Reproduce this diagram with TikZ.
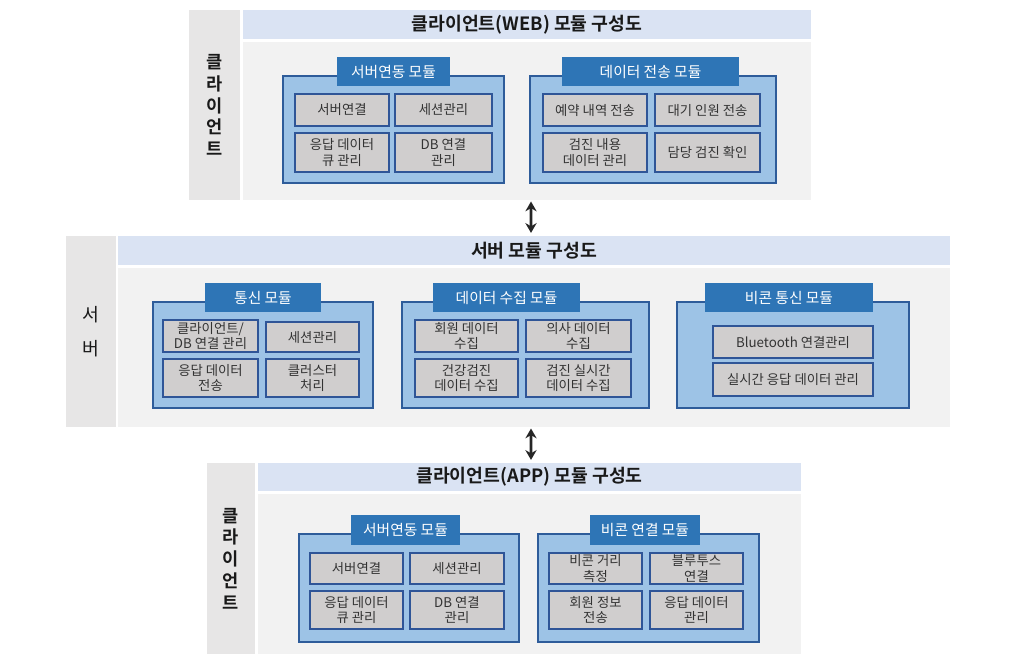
\documentclass[tikz,border=0pt]{standalone}
\usepackage{fontspec}
\setmainfont{Noto Sans CJK KR}[BoldFont={Noto Sans CJK KR Bold}]
\usepackage{xcolor}
\usepackage{tikz}
\usetikzlibrary{arrows.meta}

\definecolor{sidegray}{HTML}{E7E6E6}
\definecolor{titleblue}{HTML}{DAE3F3}
\definecolor{bodygray}{HTML}{F2F2F2}
\definecolor{modblue}{HTML}{9DC3E6}
\definecolor{modline}{HTML}{2E5C9A}
\definecolor{tabblue}{HTML}{2E75B6}
\definecolor{itemgray}{HTML}{D0CECE}
\definecolor{itemline}{HTML}{2F5597}

\begin{document}
\begin{tikzpicture}[
    sidebox/.style={
        fill=sidegray,
        inner sep=0pt,
        align=center,
        text=black!90,
        font=\fontsize{12.5}{15.5}\selectfont\bfseries
    },
    titlebar/.style={
        fill=titleblue,
        inner sep=0pt,
        text=black!90,
        font=\fontsize{13}{15}\selectfont\bfseries
    },
    bodybox/.style={
        fill=bodygray,
        inner sep=0pt
    },
    modbox/.style={
        draw=modline,
        fill=modblue,
        line width=0.8pt,
        inner sep=0pt
    },
    tabbox/.style={
        fill=tabblue,
        text=white,
        inner sep=0pt,
        font=\fontsize{10.5}{12}\selectfont
    },
    item/.style={
        draw=itemline,
        fill=itemgray,
        line width=1.4pt,
        inner sep=0pt,
        align=center,
        text=black!80,
        font=\fontsize{9.5}{10.8}\selectfont
    },
    biarrow/.style={
        {Stealth[length=7pt,width=8pt]}-{Stealth[length=7pt,width=8pt]},
        line width=2.1pt,
        draw=black!85
    }
]

\useasboundingbox (0,0) rectangle (25.9,-16.65);

% ==================================================
% Client (WEB)
% ==================================================

\node[sidebox, minimum width=1.275cm, minimum height=4.75cm] (side1) at (5.3625,-2.625)
{클\\라\\이\\언\\트};

\node[titlebar, minimum width=14.2cm, minimum height=0.725cm] (title1) at (13.175,-0.6125)
{클라이언트(WEB) 모듈 구성도};

\node[bodybox, minimum width=14.2cm, minimum height=3.95cm] (body1) at (13.175,-3.025) {};


\node[modbox, minimum width=5.525cm, minimum height=2.675cm] (webmod) at (9.8375,-3.2375) {};
\node[tabbox, minimum width=2.825cm, minimum height=0.725cm] (webtab) at (9.8375,-1.7875)
{서버연동 모듈};

\node[item, minimum width=2.35cm, minimum height=0.8cm] (webconn) at (8.55,-2.75) {서버연결};
\node[item, minimum width=2.425cm, minimum height=0.8cm] (websess) at (11.0875,-2.75) {세션관리};
\node[item, minimum width=2.35cm, minimum height=0.975cm] (webqueue) at (8.55,-3.8125) {응답 데이터\\큐 관리};
\node[item, minimum width=2.425cm, minimum height=0.975cm] (webdb) at (11.0875,-3.8125) {DB 연결\\관리};


\node[modbox, minimum width=6.15cm, minimum height=2.675cm] (sendmod) at (16.325,-3.2375) {};
\node[tabbox, minimum width=4.425cm, minimum height=0.725cm] (sendtab) at (16.2625,-1.7875)
{데이터 전송 모듈};

\node[item, minimum width=2.6cm, minimum height=0.8cm] (sendres) at (14.875,-2.75) {예약 내역 전송};
\node[item, minimum width=2.625cm, minimum height=0.8cm] (sendwait) at (17.6875,-2.75) {대기 인원 전송};
\node[item, minimum width=2.6cm, minimum height=0.975cm] (sendexam) at (14.875,-3.8125) {검진 내용\\데이터 관리};
\node[item, minimum width=2.625cm, minimum height=0.975cm] (sendcheck) at (17.6875,-3.8125) {담당 검진 확인};


% ==================================================
% Server
% ==================================================

\node[sidebox, font=\fontsize{13}{24}\selectfont, minimum width=1.25cm, minimum height=4.775cm] (side2) at (2.275,-8.2875)
{서\\버};

\node[titlebar, minimum width=20.8cm, minimum height=0.725cm] (title2) at (13.35,-6.2625)
{서버 모듈 구성도};

\node[bodybox, minimum width=20.8cm, minimum height=3.975cm] (body2) at (13.35,-8.6875) {};


\node[modbox, minimum width=5.5cm, minimum height=2.65cm] (commod) at (6.575,-8.875) {};
\node[tabbox, minimum width=2.9cm, minimum height=0.725cm] (comtab) at (6.575,-7.4375)
{통신 모듈};

\node[item, minimum width=2.375cm, minimum height=0.8cm] (comclient) at (5.2625,-8.4) {클라이언트/\\DB 연결 관리};
\node[item, minimum width=2.325cm, minimum height=0.75cm] (comsess) at (7.8125,-8.425) {세션관리};
\node[item, minimum width=2.375cm, minimum height=0.95cm] (comsend) at (5.2625,-9.45) {응답 데이터\\전송};
\node[item, minimum width=2.325cm, minimum height=0.95cm] (comcluster) at (7.8125,-9.45) {클러스터\\처리};


\node[modbox, minimum width=6.175cm, minimum height=2.65cm] (collmod) at (13.1375,-8.875) {};
\node[tabbox, minimum width=3.675cm, minimum height=0.725cm] (colltab) at (12.6625,-7.4375)
{데이터 수집 모듈};

\node[item, minimum width=2.575cm, minimum height=0.8cm] (collmember) at (11.6625,-8.4) {회원 데이터\\수집};
\node[item, minimum width=2.625cm, minimum height=0.8cm] (colldoctor) at (14.4625,-8.4) {의사 데이터\\수집};
\node[item, minimum width=2.575cm, minimum height=0.95cm] (collhealth) at (11.6625,-9.45) {건강검진\\데이터 수집};
\node[item, minimum width=2.625cm, minimum height=0.95cm] (collreal) at (14.4625,-9.45) {검진 실시간\\데이터 수집};


\node[modbox, minimum width=5.8cm, minimum height=2.65cm] (beaconmod) at (19.825,-8.875) {};
\node[tabbox, minimum width=4.2cm, minimum height=0.725cm] (beacontab) at (19.725,-7.4375)
{비콘 통신 모듈};

\node[item, minimum width=4.0cm, minimum height=0.8cm] (beaconbt) at (19.825,-8.55) {Bluetooth 연결관리};
\node[item, minimum width=4.0cm, minimum height=0.825cm] (beaconreal) at (19.825,-9.4875) {실시간 응답 데이터 관리};


% ==================================================
% Client (APP)
% ==================================================

\node[sidebox, minimum width=1.2cm, minimum height=4.775cm] (side3) at (5.775,-13.9625)
{클\\라\\이\\언\\트};

\node[titlebar, minimum width=13.575cm, minimum height=0.7cm] (title3) at (13.2375,-11.925)
{클라이언트(APP) 모듈 구성도};

\node[bodybox, minimum width=13.575cm, minimum height=4.0cm] (body3) at (13.2375,-14.35) {};


\node[modbox, minimum width=5.5cm, minimum height=2.7cm] (appmod) at (10.225,-14.7) {};
\node[tabbox, minimum width=2.725cm, minimum height=0.75cm] (apptab) at (10.1375,-13.25)
{서버연동 모듈};

\node[item, minimum width=2.325cm, minimum height=0.775cm] (appconn) at (8.9125,-14.2125) {서버연결};
\node[item, minimum width=2.35cm, minimum height=0.775cm] (appsess) at (11.425,-14.2125) {세션관리};
\node[item, minimum width=2.325cm, minimum height=0.95cm] (appqueue) at (8.9125,-15.25) {응답 데이터\\큐 관리};
\node[item, minimum width=2.35cm, minimum height=0.95cm] (appdb) at (11.425,-15.25) {DB 연결\\관리};


\node[modbox, minimum width=5.525cm, minimum height=2.7cm] (blemod) at (16.2125,-14.7) {};
\node[tabbox, minimum width=2.75cm, minimum height=0.75cm] (bletab) at (16.125,-13.25)
{비콘 연결 모듈};

\node[item, minimum width=2.325cm, minimum height=0.775cm] (bledist) at (14.8875,-14.2125) {비콘 거리\\측정};
\node[item, minimum width=2.325cm, minimum height=0.775cm] (bleconn) at (17.4125,-14.2125) {블루투스\\연결};
\node[item, minimum width=2.325cm, minimum height=0.95cm] (bleinfo) at (14.8875,-15.25) {회원 정보\\전송};
\node[item, minimum width=2.325cm, minimum height=0.95cm] (bledata) at (17.4125,-15.25) {응답 데이터\\관리};


% ==================================================
% Links between layers
% ==================================================

\draw[biarrow] ([xshift=0.1cm,yshift=-0.03cm]body1.south) -- ([xshift=-0.075cm,yshift=0.07cm]title2.north);
\draw[biarrow] ([xshift=-0.075cm,yshift=-0.03cm]body2.south) -- ([xshift=0.0375cm,yshift=0.07cm]title3.north);

\end{tikzpicture}
\end{document}
